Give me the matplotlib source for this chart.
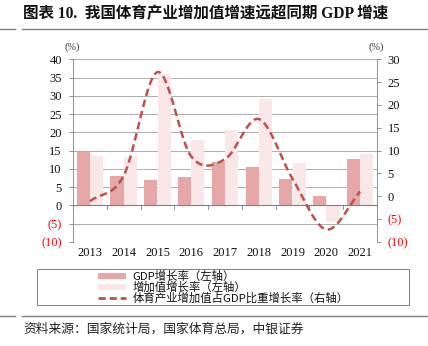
import numpy as np
import matplotlib
matplotlib.use("Agg")
import matplotlib.pyplot as plt
from matplotlib.lines import Line2D
from matplotlib.patches import Rectangle

years = ["2013", "2014", "2015", "2016", "2017", "2018", "2019", "2020", "2021"]
gdp_growth = [14.5, 8.0, 6.9, 7.8, 11.9, 10.4, 7.2, 2.5, 12.7]
value_added_growth = [13.5, 13.2, 36.0, 17.9, 20.6, 29.0, 11.5, -4.7, 14.0]
share_growth = [-1.1, 4.5, 27.2, 8.7, 8.1, 16.9, 3.8, -7.3, 1.0]

left_ticks = [-10, -5, 0, 5, 10, 15, 20, 25, 30, 35, 40]
right_ticks = [-10, -5, 0, 5, 10, 15, 20, 25, 30]

legend_labels = ["GDP增长率（左轴）", "增加值增长率（左轴）", "体育产业增加值占GDP比重增长率（右轴）"]

SERIF = ["Liberation Serif", "Noto Sans CJK SC"]
CJK = ["Noto Sans CJK SC", "Liberation Serif"]
DARK = "#E8A7A7"
LIGHT = "#FAE7E7"
LINE = "#C0504D"
GRID = "#A0A0A0"
AXIS = "#808080"
TICK_FS = 9


def fmt(v):
    return f"({abs(v)})" if v < 0 else f"{v}"


def catmull_rom(x, y, n=30):
    x = np.asarray(x, float)
    y = np.asarray(y, float)
    px = np.concatenate([[2 * x[0] - x[1]], x, [2 * x[-1] - x[-2]]])
    py = np.concatenate([[2 * y[0] - y[1]], y, [2 * y[-1] - y[-2]]])
    xs, ys = [], []
    t = np.linspace(0, 1, n, endpoint=False)
    for i in range(1, len(px) - 2):
        for arr, out in ((px, xs), (py, ys)):
            p0, p1, p2, p3 = arr[i - 1], arr[i], arr[i + 1], arr[i + 2]
            out.append(0.5 * (2 * p1 + (-p0 + p2) * t
                              + (2 * p0 - 5 * p1 + 4 * p2 - p3) * t ** 2
                              + (-p0 + 3 * p1 - 3 * p2 + p3) * t ** 3))
    xs.append([x[-1]])
    ys.append([y[-1]])
    return np.concatenate(xs), np.concatenate(ys)


fig = plt.figure(figsize=(4.28, 3.46), dpi=100)
ax = fig.add_axes([0.1706, 0.3012, 0.7102, 0.5274])
ax2 = ax.twinx()

x = np.arange(len(years))
w = 0.39
ax.bar(x - 0.197, gdp_growth, w, color=DARK, zorder=2)
ax.bar(x + 0.197, value_added_growth, w, color=LIGHT, zorder=2)

ax.set_xlim(-0.5, len(years) - 0.5)
ax.set_ylim(-10, 40)
ax.set_yticks(left_ticks)
ax.set_yticklabels([fmt(v) for v in left_ticks], fontfamily=SERIF, fontsize=TICK_FS)
for lbl, v in zip(ax.get_yticklabels(), left_ticks):
    lbl.set_color("#FF0000" if v < 0 else "#111111")
ax.set_xticks(x)
ax.set_xticklabels(years, fontfamily=SERIF, fontsize=TICK_FS, color="#111111")
ax.tick_params(axis="x", length=0, pad=4)
ax.tick_params(axis="y", direction="out", length=2.6, width=0.6, color=AXIS, pad=5.5)
ax.yaxis.grid(True, color=GRID, linewidth=0.6, zorder=0)
ax.set_axisbelow(True)
for s in ("top", "bottom", "right"):
    ax.spines[s].set_visible(False)
ax.spines["left"].set_color(AXIS)
ax.spines["left"].set_linewidth(0.6)

# zero baseline with category separators
ax.axhline(0, color=AXIS, linewidth=0.8, zorder=3)
for b in np.arange(-0.5, len(years) - 0.4, 1.0):
    ax.plot([b, b], [0, -0.9], color=AXIS, linewidth=0.6, zorder=3, clip_on=False)

ax2.set_ylim(-10, 30)
ax2.set_yticks(right_ticks)
ax2.set_yticklabels([fmt(v) for v in right_ticks], fontfamily=SERIF, fontsize=TICK_FS)
for lbl, v in zip(ax2.get_yticklabels(), right_ticks):
    lbl.set_color("#FF0000" if v < 0 else "#111111")
ax2.tick_params(axis="y", direction="out", length=2.6, width=0.6, color=AXIS, pad=5)
for s in ("top", "bottom", "left"):
    ax2.spines[s].set_visible(False)
ax2.spines["right"].set_color(AXIS)
ax2.spines["right"].set_linewidth(0.6)

sx, sy = catmull_rom(x, share_growth)
ax2.plot(sx, sy, color=LINE, linewidth=1.8, dashes=(3.0, 1.6), zorder=4,
         dash_capstyle="butt")

fig.text(0.1675, 0.857, "(%)", fontfamily=SERIF, fontsize=7.5, ha="center", color="#333333")
fig.text(0.878, 0.857, "(%)", fontfamily=SERIF, fontsize=7.5, ha="center", color="#333333")

# legend drawn in figure coordinates
fig.add_artist(Rectangle((0.0857, 0.1194), 0.8699, 0.104, transform=fig.transFigure,
                         facecolor="white", edgecolor=AXIS, linewidth=0.7))
rows_y = [0.2023, 0.1705, 0.1387]
hx0, hx1 = 0.2297, 0.2944
fig.add_artist(Rectangle((hx0, rows_y[0] - 0.0075), hx1 - hx0, 0.015,
                         transform=fig.transFigure, facecolor=DARK, edgecolor="none"))
fig.add_artist(Rectangle((hx0, rows_y[1] - 0.0075), hx1 - hx0, 0.015,
                         transform=fig.transFigure, facecolor=LIGHT, edgecolor="none"))
fig.add_artist(Line2D([hx0, hx1], [rows_y[2], rows_y[2]], color=LINE, linewidth=2.0,
                      dashes=(2.6, 1.4), dash_capstyle="butt"))
for yy, txt in zip(rows_y, legend_labels):
    fig.text(0.309, yy, txt, fontfamily=CJK, fontsize=8.2, va="center", ha="left",
             color="#111111")

# title block
fig.text(0.053, 0.9595, "图表 10.  我国体育产业增加值增速远超同期 GDP 增速", fontfamily=SERIF,
         fontsize=11.2, fontweight="bold", va="center", ha="left", color="#111111")
for yy in (0.9153, 0.0876):
    fig.add_artist(Line2D([0.0, 0.035], [yy, yy], color=AXIS, linewidth=1.0))
    fig.add_artist(Line2D([0.052, 1.0], [yy, yy], color=AXIS, linewidth=1.0))

fig.text(0.054, 0.049, "资料来源：国家统计局，国家体育总局，中银证券", fontfamily=CJK,
         fontsize=9.2, va="center", ha="left", color="#222222", style="italic")

fig.savefig("out.png", dpi=100)
